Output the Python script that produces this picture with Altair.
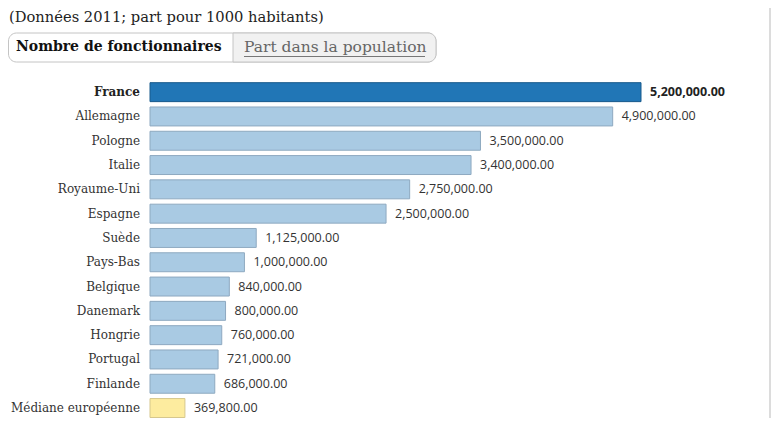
import altair as alt
import pandas as pd

countries = ["France", "Allemagne", "Pologne", "Italie", "Royaume-Uni", "Espagne",
             "Suède", "Pays-Bas", "Belgique", "Danemark", "Hongrie", "Portugal",
             "Finlande", "Médiane européenne"]
values = [5200000, 4900000, 3500000, 3400000, 2750000, 2500000,
          1125000, 1000000, 840000, 800000, 760000, 721000,
          686000, 369800]
kinds = ["highlight"] + ["country"] * 12 + ["median"]

subtitle = "(Données 2011; part pour 1000 habitants)"
tab_active = "Nombre de fonctionnaires"
tab_other = "Part dans la population"

df = pd.DataFrame({"country": countries, "value": values, "kind": kinds})
one = pd.DataFrame({"a": [0]})

SERIF = "DejaVu Serif"
SANS = "Open Sans"
STEP = 24.3

yenc = alt.Y("country:N", sort=countries,
             scale=alt.Scale(domain=countries, range=[0, STEP * len(countries)],
                             paddingInner=0.22, paddingOuter=0.11),
             axis=None)
xenc = alt.X("value:Q", scale=alt.Scale(domain=[0, 5200000], range=[0, 491]), axis=None)

kind_dom = ["highlight", "country", "median"]
fill = alt.Color("kind:N", scale=alt.Scale(domain=kind_dom, range=["#2176b6", "#a9cae3", "#fdec9f"]), legend=None)
stroke = alt.Stroke("kind:N", scale=alt.Scale(domain=kind_dom, range=["#185a8c", "#8ea9c0", "#d6c78c"]), legend=None)

base = alt.Chart(df)

bars = base.mark_bar(strokeWidth=1).encode(y=yenc, x=xenc, color=fill, stroke=stroke)

vals_b = base.transform_filter("datum.kind === 'highlight'").mark_text(
    align="left", baseline="middle", dx=9, font=SANS, fontSize=12.5, fontWeight="bold", color="#222"
).encode(y=yenc, x=xenc, text=alt.Text("value:Q", format=",.2f"))
vals_n = base.transform_filter("datum.kind !== 'highlight'").mark_text(
    align="left", baseline="middle", dx=9, font=SANS, fontSize=12.5, color="#333"
).encode(y=yenc, x=xenc, text=alt.Text("value:Q", format=",.2f"))

labs_b = base.transform_filter("datum.kind === 'highlight'").mark_text(
    align="right", baseline="middle", font=SERIF, fontSize=12, fontWeight="bold", color="#222"
).encode(y=yenc, x=alt.value(-10), text="country:N")
labs_n = base.transform_filter("datum.kind !== 'highlight'").mark_text(
    align="right", baseline="middle", font=SERIF, fontSize=12, color="#333"
).encode(y=yenc, x=alt.value(-10), text="country:N")

dec = alt.Chart(one)
tab_box = dec.mark_rect(fill="white", stroke="#c4c4c4", strokeWidth=1, cornerRadius=8).encode(
    x=alt.value(-141.5), x2=alt.value(286), y=alt.value(-47), y2=alt.value(-18))
tab_right = dec.mark_rect(fill="#f1f1f1", stroke="#c4c4c4", strokeWidth=1,
                          cornerRadiusTopRight=8, cornerRadiusBottomRight=8).encode(
    x=alt.value(83), x2=alt.value(286), y=alt.value(-47), y2=alt.value(-18))
t_title = dec.mark_text(align="left", baseline="middle", font=SERIF, fontSize=14.7, color="#222").encode(
    x=alt.value(-141), y=alt.value(-62), text=alt.value(subtitle))
t_tab1 = dec.mark_text(align="left", baseline="middle", font=SERIF, fontSize=14, fontWeight="bold", color="#111").encode(
    x=alt.value(-134), y=alt.value(-33), text=alt.value(tab_active))
t_tab2 = dec.mark_text(align="left", baseline="middle", font=SERIF, fontSize=15.5, color="#666").encode(
    x=alt.value(94), y=alt.value(-33), text=alt.value(tab_other))
underline = dec.mark_rule(color="#777", strokeWidth=1).encode(
    x=alt.value(94), x2=alt.value(275), y=alt.value(-23.5))
vline = dec.mark_rule(color="#dcdcdc", strokeWidth=2).encode(
    x=alt.value(620), y=alt.value(-80), y2=alt.value(346))

chart = alt.layer(
    tab_box, tab_right, t_title, t_tab1, t_tab2, underline, vline,
    bars, vals_b, vals_n, labs_b, labs_n
).properties(
    width=622, height=338,
    autosize=alt.AutoSizeParams(type="none"),
    padding={"left": 142, "top": 72, "right": 0, "bottom": 0}
).configure_view(stroke=None)

chart.save("out.html", embed_options={"renderer": "svg", "actions": False})
